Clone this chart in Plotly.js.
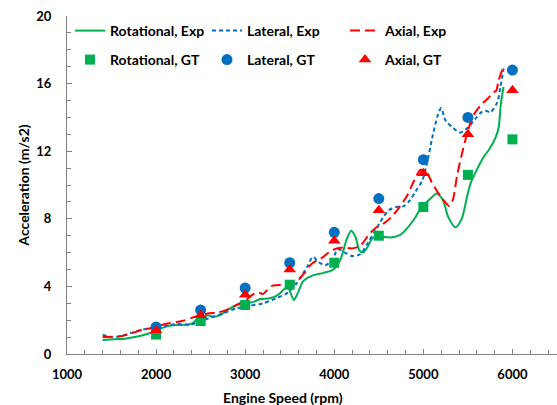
<!DOCTYPE html>
<html>
<head>
<meta charset="utf-8">
<script src="https://cdn.plot.ly/plotly-3.0.1.min.js"></script>
<style>html,body{margin:0;padding:0;background:#fff;}#chart{width:557px;height:405px;}</style>
</head>
<body>
<div id="chart"></div>
<script>
// Experimental curves (rpm, m/s2)
const rotExpRpm = [1400,1540,1650,1760,1910,2000,2070,2180,2290,2400,2450,2520,2580,2640,2720,2800,2910,3020,3100,3170,3280,3370,3430,3475,3510,3545,3590,3650,3760,3880,3990,4070,4140,4190,4240,4280,4320,4370,4430,4500,4630,4740,4820,4900,4970,5080,5150,5220,5280,5360,5430,5490,5530,5600,5670,5750,5810,5845,5870,5900];
const rotExpVal = [0.83,0.88,0.9,1.0,1.2,1.35,1.55,1.7,1.72,1.8,2.0,2.15,2.3,2.2,2.3,2.6,2.9,3.0,3.1,3.25,3.3,3.5,3.8,4.0,3.6,3.2,3.6,4.3,4.65,4.8,5.0,5.6,6.8,7.3,6.9,6.15,6.0,6.3,6.85,6.95,6.9,7.05,7.45,8.0,8.6,9.2,9.5,9.1,8.1,7.5,8.0,9.3,10.1,10.9,11.6,12.2,12.8,13.4,14.8,15.8];

const latExpRpm = [1400,1500,1600,1750,1900,2000,2100,2250,2380,2500,2640,2750,2900,3050,3200,3350,3470,3580,3700,3760,3820,3900,3980,4040,4120,4200,4290,4380,4460,4550,4610,4690,4780,4850,4910,4990,5045,5100,5160,5200,5250,5330,5415,5500,5580,5650,5700,5750,5830,5865,5900];
const latExpVal = [1.15,1.0,1.05,1.3,1.5,1.55,1.65,1.78,1.72,1.95,2.2,2.4,2.7,2.85,3.0,3.3,3.6,4.2,5.2,5.75,5.45,5.25,5.6,6.2,6.0,5.8,5.9,6.6,7.3,8.1,8.5,8.7,8.75,9.1,9.6,10.3,11.4,12.8,14.1,14.55,13.8,13.4,13.1,13.4,13.9,14.3,14.4,14.3,14.9,15.8,16.9];

const axExpRpm = [1400,1620,1840,2000,2100,2290,2440,2580,2690,2830,2920,3000,3080,3140,3200,3250,3310,3450,3560,3650,3750,3850,3980,4100,4200,4290,4380,4450,4550,4640,4720,4820,4900,4970,5030,5100,5190,5250,5290,5330,5380,5440,5500,5560,5640,5720,5780,5820,5840,5890];
const axExpVal = [1.0,1.07,1.42,1.6,1.78,1.95,2.2,2.4,2.45,2.7,2.95,3.15,3.5,3.65,3.55,3.8,4.05,4.1,4.25,4.7,5.35,5.65,6.15,6.3,6.25,6.4,7.0,7.4,7.7,8.1,8.6,9.4,10.3,10.9,10.8,10.1,9.35,8.95,8.75,9.1,10.6,12.0,13.2,14.1,14.7,15.1,15.45,15.6,16.1,16.9];

// GT points
const gtRpm = [2000,2500,3000,3500,4000,4500,5000,5500,6000];
const rotGT = [1.15,1.95,2.9,4.1,5.4,7.0,8.7,10.6,12.7];
const latGT = [1.6,2.6,3.9,5.4,7.2,9.2,11.5,14.0,16.8];
const axGT  = [1.4,2.3,3.5,5.0,6.7,8.5,10.7,13.0,15.6];

const names = ["Rotational, Exp","Lateral, Exp","Axial, Exp","Rotational, GT","Lateral, GT","Axial, GT"];
const cGreen = "#00B050", cBlue = "#0070C0", cRed = "#FF0000";

const traces = [
  {x: rotExpRpm, y: rotExpVal, name: names[0], mode: "lines", line: {color: cGreen, width: 2, shape: "spline", smoothing: 0.8}, legend: "legend"},
  {x: latExpRpm, y: latExpVal, name: names[1], mode: "lines", line: {color: cBlue, width: 2, dash: "4px,3px", shape: "spline", smoothing: 0.8}, legend: "legend2"},
  {x: axExpRpm, y: axExpVal, name: names[2], mode: "lines", line: {color: cRed, width: 2, dash: "10px,5px", shape: "spline", smoothing: 0.8}, legend: "legend3"},
  {x: gtRpm, y: rotGT, name: names[3], mode: "markers", marker: {symbol: "square", size: 10, color: cGreen}, legend: "legend4"},
  {x: gtRpm, y: latGT, name: names[4], mode: "markers", marker: {symbol: "circle", size: 11, color: cBlue}, legend: "legend5"},
  {x: gtRpm, y: axGT, name: names[5], mode: "markers", marker: {symbol: "triangle-up", size: 11, color: cRed}, legend: "legend6"}
];

const fontFam = "Lato, 'Open Sans', sans-serif";
const legBase = {
  orientation: "h", xref: "paper", yref: "paper", xanchor: "left", yanchor: "middle",
  font: {family: fontFam, size: 14, color: "#000", weight: "bold"},
  bgcolor: "rgba(0,0,0,0)", borderwidth: 0, itemclick: false
};
// paper coords: plot spans x 67..557, y 16..354
const px = v => (v - 67) / 490;
const py = v => (354 - v) / 338;
const colX = [px(70), px(207), px(345)];
const rowY = [py(31), py(60)];

const layout = {
  width: 557, height: 405,
  margin: {l: 67, r: 0, t: 16, b: 51, pad: 0},
  paper_bgcolor: "#fff", plot_bgcolor: "#fff",
  font: {family: fontFam, size: 13, color: "#000", weight: "bold"},
  showlegend: true,
  legend:  Object.assign({}, legBase, {x: colX[0], y: rowY[0]}),
  legend2: Object.assign({}, legBase, {x: colX[1], y: rowY[0]}),
  legend3: Object.assign({}, legBase, {x: colX[2], y: rowY[0]}),
  legend4: Object.assign({}, legBase, {x: colX[0], y: rowY[1]}),
  legend5: Object.assign({}, legBase, {x: colX[1], y: rowY[1]}),
  legend6: Object.assign({}, legBase, {x: colX[2], y: rowY[1]}),
  xaxis: {
    range: [1000, 6500], tickmode: "linear", tick0: 1000, dtick: 1000,
    showgrid: false, zeroline: false, showline: true, linecolor: "#808080", linewidth: 1,
    ticks: "inside", ticklen: 5, tickcolor: "#808080", tickwidth: 1,
    minor: {dtick: 200, ticks: "inside", ticklen: 4, tickcolor: "#808080", showgrid: false},
    tickfont: {family: fontFam, size: 13, color: "#000", weight: "bold"},
    ticklabelstandoff: 8
  },
  yaxis: {
    range: [0, 20], tickmode: "linear", tick0: 0, dtick: 4,
    showgrid: false, zeroline: false, showline: true, linecolor: "#808080", linewidth: 1,
    ticks: "inside", ticklen: 5, tickcolor: "#808080", tickwidth: 1,
    minor: {dtick: 1, ticks: "inside", ticklen: 4, tickcolor: "#808080", showgrid: false},
    tickfont: {family: fontFam, size: 13, color: "#000", weight: "bold"},
    ticklabelstandoff: 12,
    title: {text: "Acceleration (m/s2)", font: {family: fontFam, size: 14, color: "#000", weight: "bold"}, standoff: 3}
  },
  annotations: [{
    text: "Engine Speed (rpm)", xref: "paper", yref: "paper", x: px(283), y: py(397),
    xanchor: "center", yanchor: "middle", showarrow: false,
    font: {family: fontFam, size: 14, color: "#000", weight: "bold"}
  }]
};

Plotly.newPlot("chart", traces, layout, {staticPlot: true, displayModeBar: false});
</script>
</body>
</html>
